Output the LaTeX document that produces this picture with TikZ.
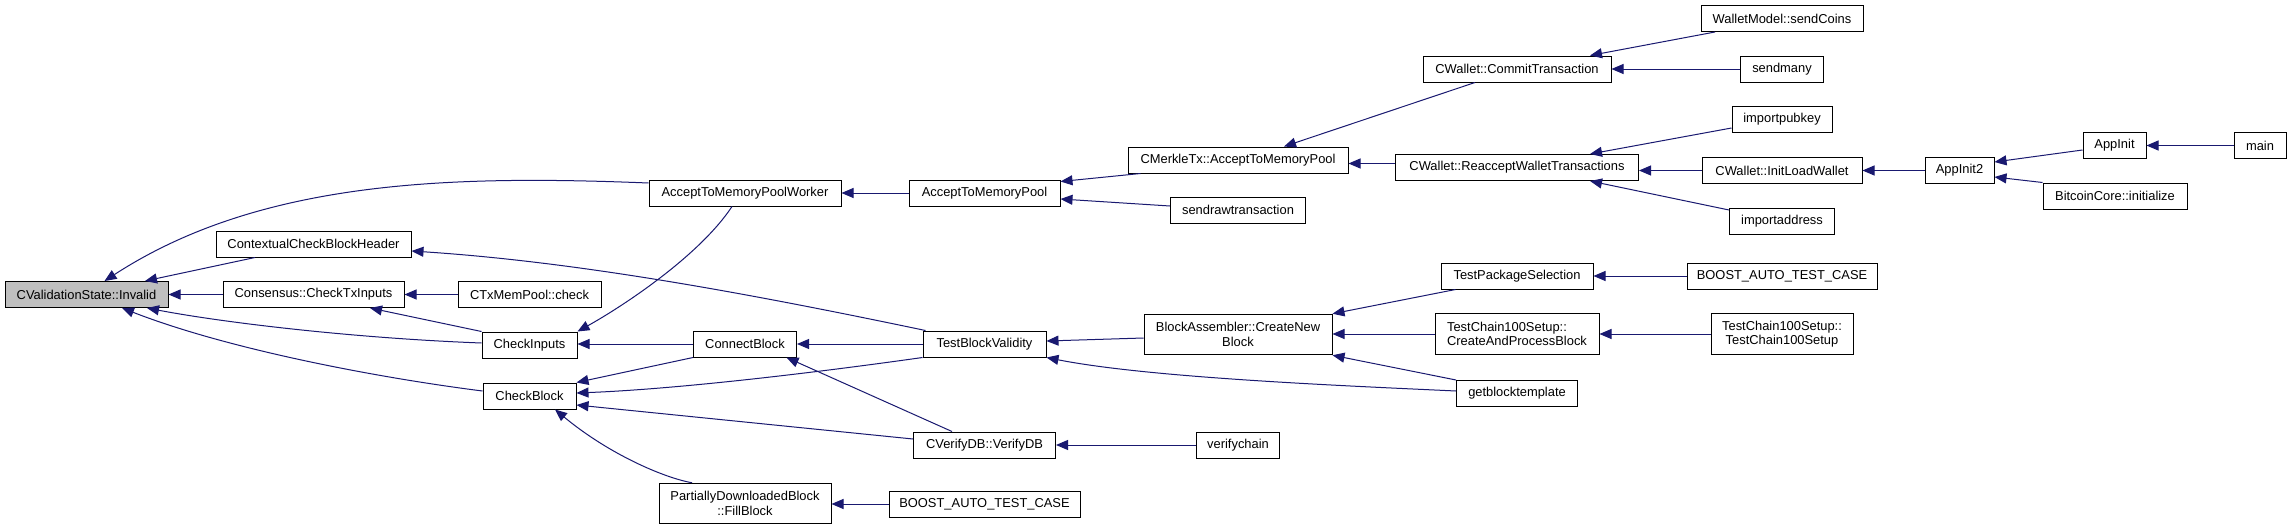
\documentclass[tikz,border=0pt]{standalone}
\usepackage{fontspec}
\setmainfont{Liberation Sans}
\usetikzlibrary{arrows.meta,calc}
\definecolor{edgeblue}{RGB}{25,25,112}
\definecolor{rootgray}{RGB}{191,191,191}
\begin{document}
\begin{tikzpicture}[x=1pt,y=-1pt,
  fn/.style={draw=black, line width=1pt, fill=white, inner sep=0pt, minimum height=26pt,
    font=\fontsize{12.9}{14.5}\selectfont, align=center},
  fntwo/.style={fn, minimum height=40.5pt},
  rootfn/.style={fn, fill=rootgray},
  callarrow/.style={draw=edgeblue, line width=1pt, -{Triangle[length=12pt,width=10pt]}}]
\fill[white] (0,0) rectangle (2291,530);
\useasboundingbox (0,0) rectangle (2291,530);
% column 0
\node[rootfn, minimum width=163pt] (inv) at (86.5,294.5) {CValidationState::Invalid};
% column 1
\node[fn, minimum width=195pt] (ccbh) at (313.5,244) {ContextualCheckBlockHeader};
\node[fn, minimum width=181pt] (ctxi) at (313.5,294.5) {Consensus::CheckTxInputs};
% column 2
\node[fn, minimum width=143pt] (mpchk) at (529.5,294.5) {CTxMemPool::check};
\node[fn, minimum width=95pt] (chkin) at (529.5,345) {CheckInputs};
\node[fn, minimum width=93pt] (chkblk) at (529.5,396) {CheckBlock};
% column 3
\node[fn, minimum width=192pt] (atmpw) at (745,193) {AcceptToMemoryPoolWorker};
\node[fn, minimum width=103pt] (conn) at (745,344) {ConnectBlock};
\node[fntwo, minimum width=172pt] (fill) at (745,503.5) {PartiallyDownloadedBlock\\::FillBlock};
% column 4
\node[fn, minimum width=151pt] (atmp) at (984.5,193) {AcceptToMemoryPool};
\node[fn, minimum width=123pt] (tbv) at (984.5,344) {TestBlockValidity};
\node[fn, minimum width=142pt] (vdb) at (984.5,445) {CVerifyDB::VerifyDB};
\node[fn, minimum width=191pt] (boosttwo) at (984.5,504) {BOOST\_AUTO\_TEST\_CASE};
% column 5
\node[fn, minimum width=220pt] (cmerkle) at (1238,160) {CMerkleTx::AcceptToMemoryPool};
\node[fn, minimum width=135pt] (sendraw) at (1238,210) {sendrawtransaction};
\node[fntwo, minimum width=188pt] (cnb) at (1238,334.5) {BlockAssembler::CreateNew\\Block};
\node[fn, minimum width=83pt] (vchain) at (1238,445) {verifychain};
% column 6
\node[fn, minimum width=188pt] (commit) at (1517,69) {CWallet::CommitTransaction};
\node[fn, minimum width=243pt] (reaccept) at (1517,167.5) {CWallet::ReacceptWalletTransactions};
\node[fn, minimum width=152pt] (tps) at (1517,276) {TestPackageSelection};
\node[fntwo, minimum width=164pt, align=left] (capb) at (1517,334) {TestChain100Setup::\\CreateAndProcessBlock};
\node[fn, minimum width=121pt] (gbt) at (1517,393.5) {getblocktemplate};
% column 7
\node[fn, minimum width=162pt] (sendcoins) at (1782,18.5) {WalletModel::sendCoins};
\node[fn, minimum width=83pt] (sendmany) at (1782,69) {sendmany};
\node[fn, minimum width=100pt] (pubkey) at (1782,119.5) {importpubkey};
\node[fn, minimum width=160pt] (initload) at (1782,170.5) {CWallet::InitLoadWallet};
\node[fn, minimum width=105pt] (importaddr) at (1782,221) {importaddress};
\node[fn, minimum width=190pt] (boostone) at (1782,276) {BOOST\_AUTO\_TEST\_CASE};
\node[fntwo, minimum width=142pt] (tchain) at (1782,334) {TestChain100Setup::\\TestChain100Setup};
% column 8
\node[fn, minimum width=69pt] (appinittwo) at (1959.5,170.5) {AppInit2};
% column 9
\node[fn, minimum width=63pt] (appinit) at (2114.5,145.5) {AppInit};
\node[fn, minimum width=144pt] (btc) at (2115,196) {BitcoinCore::initialize};
% column 10
\node[fn, minimum width=52pt] (mainfn) at (2260,145.5) {main};

% edges into CValidationState::Invalid
\draw[callarrow] ($(atmpw.west)+(0,-10)$) .. controls (450,175) and (260,180) .. ($(inv.north)+(18,0)$);
\draw[callarrow] ($(ccbh.south)+(-58.5,0)$) -- ($(inv.north)+(58.5,0)$);
\draw[callarrow] (ctxi.west) -- (inv.east);
\draw[callarrow] ($(chkin.west)+(0,-2)$) .. controls (350,338) and (220,322) .. ($(inv.south)+(60.5,0)$);
\draw[callarrow] ($(chkblk.west)+(0,-5)$) .. controls (380,378) and (230,350) .. ($(inv.south)+(35.5,0)$);
% column 1 callers
\draw[callarrow] ($(tbv.north west)+(3,0)$) .. controls (756,295) and (581,262) .. ($(ccbh.east)+(0,7)$);
\draw[callarrow] (mpchk.west) -- (ctxi.east);
\draw[callarrow] (chkin.north west) -- ($(ctxi.south)+(56.5,0)$);
% column 2 callers
\draw[callarrow] ($(atmpw.south)+(-13,0)$) .. controls (700,255) and (625,305) .. (chkin.north east);
\draw[callarrow] (conn.west) -- (chkin.east |- conn.west);
\draw[callarrow] (conn.south west) -- (chkblk.north east);
\draw[callarrow] (tbv.south west) .. controls (820,372) and (680,389) .. ($(chkblk.east)+(0,-3)$);
\draw[callarrow] ($(vdb.west)+(0,-6)$) -- ($(chkblk.east)+(0,9)$);
\draw[callarrow] ($(fill.north)+(-53,0)$) .. controls (665,478) and (610,455) .. ($(chkblk.south)+(25.5,0)$);
% column 3 callers
\draw[callarrow] (atmp.west) -- (atmpw.east);
\draw[callarrow] (tbv.west) -- (conn.east);
\draw[callarrow] ($(vdb.north)+(-32.5,0)$) -- ($(conn.south)+(41.5,0)$);
\draw[callarrow] (boosttwo.west) -- (fill.east |- boosttwo.west);
% column 4 callers
\draw[callarrow] ($(cmerkle.south west)+(13,0)$) -- ($(atmp.north east)+(0,2)$);
\draw[callarrow] ($(sendraw.west)+(0,-4)$) -- ($(atmp.east)+(0,6)$);
\draw[callarrow] ($(cnb.west)+(0,3.5)$) -- ($(tbv.east)+(0,-3)$);
\draw[callarrow] ($(gbt.west)+(0,-2.5)$) .. controls (1350,386) and (1150,378) .. (tbv.south east);
\draw[callarrow] (vchain.west) -- (vdb.east);
% column 5 callers
\draw[callarrow] ($(commit.south)+(-42,0)$) -- ($(cmerkle.north)+(46,0)$);
\draw[callarrow] ($(reaccept.west)+(0,-4)$) -- ($(cmerkle.east)+(0,3.5)$);
\draw[callarrow] ($(tps.south west)+(15,0)$) -- (cnb.north east);
\draw[callarrow] (capb.west) -- (cnb.east |- capb.west);
\draw[callarrow] (gbt.north west) -- (cnb.south east);
% column 6 callers
\draw[callarrow] ($(sendcoins.south)+(-67,0)$) -- ($(commit.north)+(73,0)$);
\draw[callarrow] (sendmany.west) -- (commit.east);
\draw[callarrow] ($(pubkey.west)+(0,8.5)$) -- ($(reaccept.north)+(73,0)$);
\draw[callarrow] (initload.west) -- (reaccept.east |- initload.west);
\draw[callarrow] ($(importaddr.west)+(0,-11)$) -- ($(reaccept.south)+(73,0)$);
\draw[callarrow] (boostone.west) -- (tps.east);
\draw[callarrow] (tchain.west) -- (capb.east);
% column 7+ callers
\draw[callarrow] (appinittwo.west) -- (initload.east);
\draw[callarrow] ($(appinit.west)+(0,4.5)$) -- ($(appinittwo.east)+(0,-8.5)$);
\draw[callarrow] (btc.north west) -- ($(appinittwo.east)+(0,6.5)$);
\draw[callarrow] (mainfn.west) -- (appinit.east);
\end{tikzpicture}
\end{document}
